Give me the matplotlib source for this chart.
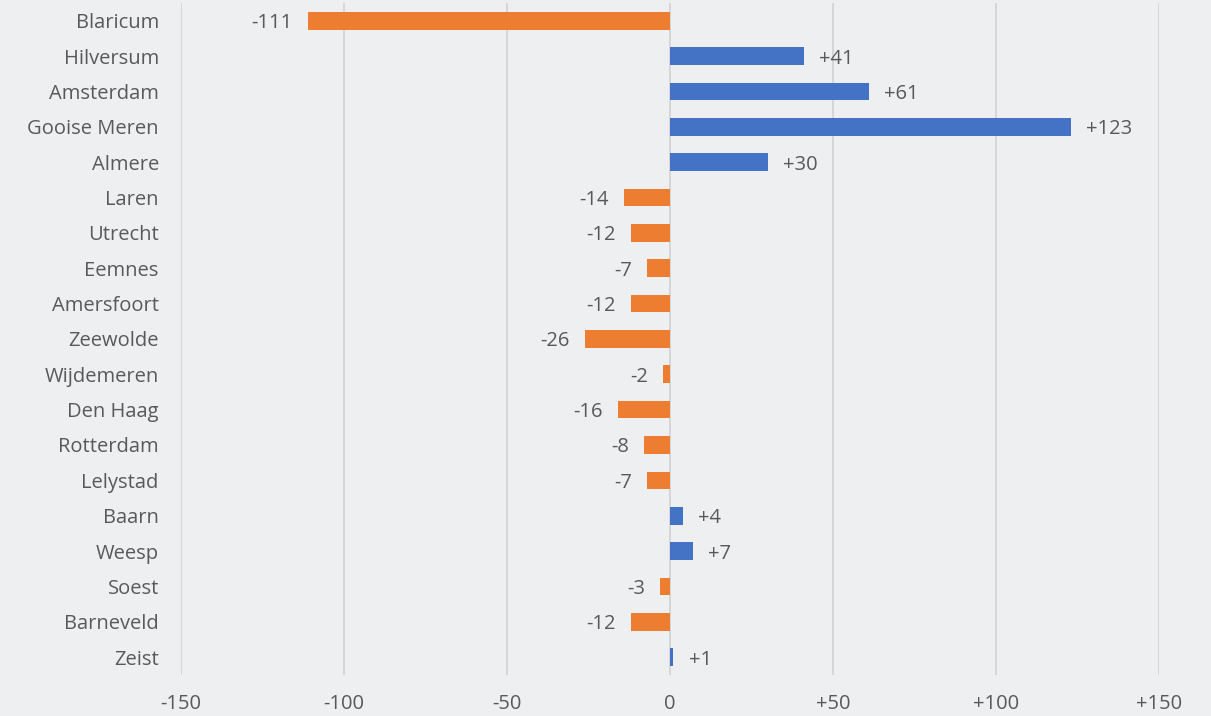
import matplotlib.pyplot as plt
from matplotlib.ticker import FixedLocator

plt.rcParams['font.family'] = ['Open Sans', 'DejaVu Sans']

cities = ['Blaricum', 'Hilversum', 'Amsterdam', 'Gooise Meren', 'Almere', 'Laren',
          'Utrecht', 'Eemnes', 'Amersfoort', 'Zeewolde', 'Wijdemeren', 'Den Haag',
          'Rotterdam', 'Lelystad', 'Baarn', 'Weesp', 'Soest', 'Barneveld', 'Zeist']
saldo = [-111, 41, 61, 123, 30, -14, -12, -7, -12, -26, -2, -16, -8, -7, 4, 7, -3, -12, 1]
ticks = [-150, -100, -50, 0, 50, 100, 150]

orange = '#ED7D31'
blue = '#4472C4'
txt = '#595959'
bg = '#eeeff1'
fs = 14.5

fig = plt.figure(figsize=(12.11, 7.16), dpi=100, facecolor=bg)
ax = fig.add_axes([0.1495, 0.0577, 0.8075, 0.9377])
ax.set_facecolor(bg)

ypos = list(range(len(cities)))
colors = [blue if v > 0 else orange for v in saldo]
ax.barh(ypos, saldo, height=0.5, color=colors, zorder=3)

for y, v in zip(ypos, saldo):
    label = f'+{v}' if v > 0 else str(v)
    if v > 0:
        ax.annotate(label, (v, y), xytext=(11, 0), textcoords='offset points',
                    ha='left', va='center_baseline', fontsize=fs, color=txt)
    else:
        ax.annotate(label, (v, y), xytext=(-11, 0), textcoords='offset points',
                    ha='right', va='center_baseline', fontsize=fs, color=txt)

ax.set_xlim(-150, 150)
ax.set_ylim(len(cities) - 0.5, -0.5)
ax.set_yticks(ypos)
ax.set_yticklabels(cities, fontsize=fs, color=txt, va='center_baseline')
ax.xaxis.set_major_locator(FixedLocator(ticks))
ax.set_xticklabels([f'+{t}' if t > 0 else str(t) for t in ticks], fontsize=fs, color=txt)
ax.tick_params(axis='both', length=0)
ax.tick_params(axis='x', pad=14)
ax.tick_params(axis='y', pad=16)
ax.grid(axis='x', color='#d4d4d4', linewidth=1.3, zorder=0)
for s in ax.spines.values():
    s.set_visible(False)

fig.savefig('out.png', dpi=100, facecolor=bg)
